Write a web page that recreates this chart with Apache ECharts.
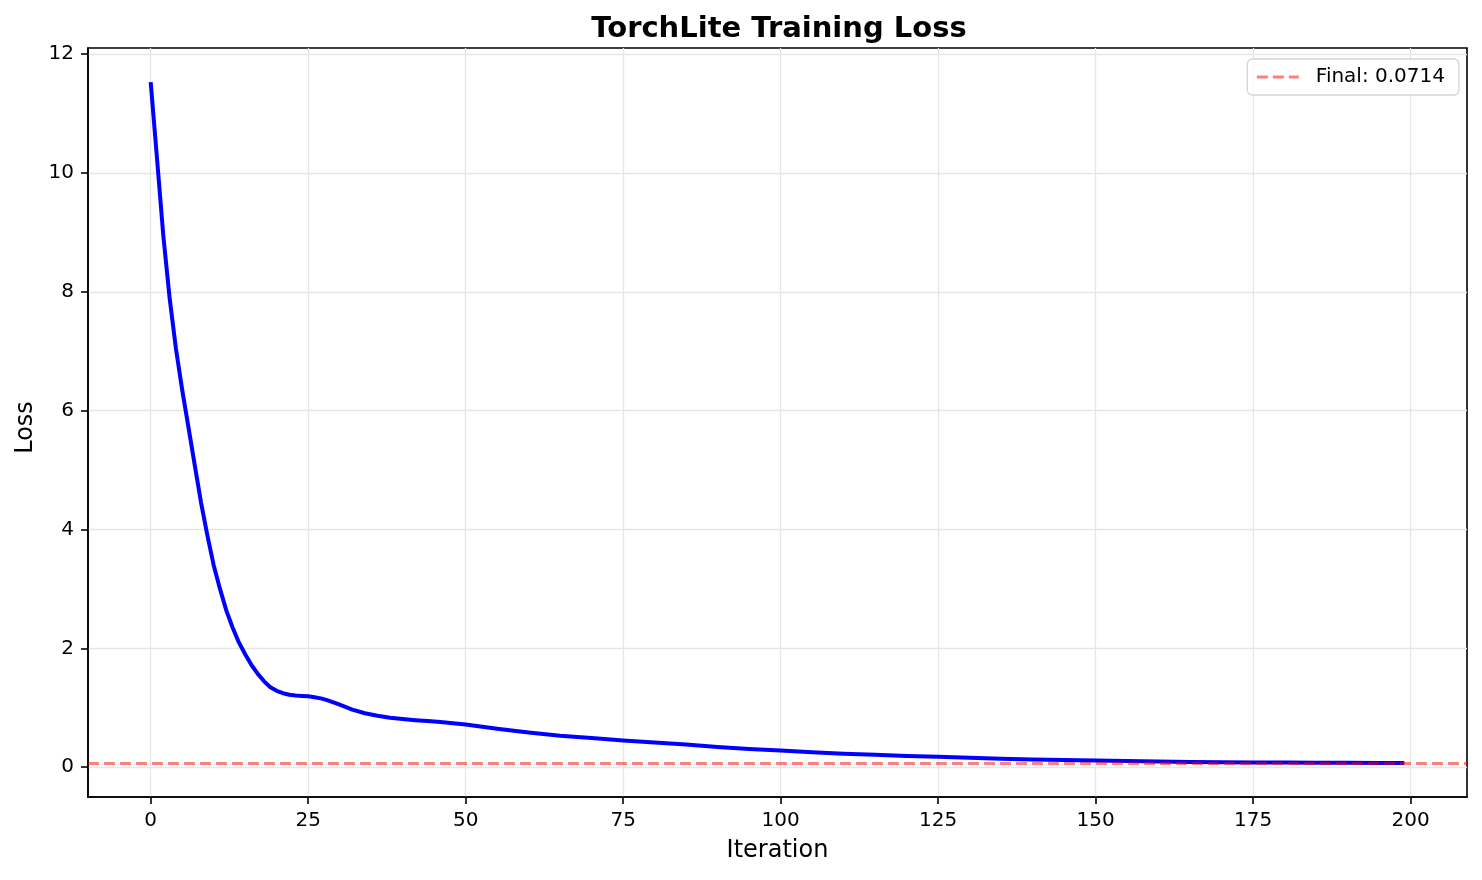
<!DOCTYPE html>
<html>
<head>
<meta charset="utf-8">
<script src="https://cdn.jsdelivr.net/npm/echarts@6/dist/echarts.min.js"></script>
<style>
html,body{margin:0;padding:0;background:#fff;}
#c{width:1482px;height:880px;}
</style>
</head>
<body>
<div id="c"></div>
<script>
// ---- data ----
const iterations = [0,1,2,3,4,5,6,7,8,9,10,11,12,13,14,15,16,17,18,19,20,21,22,23,24,25,26,27,28,29,30,32,34,36,38,40,42,44,46,48,50,55,60,65,70,75,80,85,90,95,100,105,110,115,120,125,130,135,140,145,150,155,160,165,170,175,180,185,190,195,199];
const lossValues = [11.53,10.25,8.95,7.9,7.05,6.35,5.72,5.08,4.45,3.9,3.4,3.0,2.64,2.35,2.1,1.9,1.72,1.57,1.445,1.345,1.285,1.245,1.22,1.207,1.2,1.193,1.178,1.158,1.128,1.092,1.052,0.97,0.908,0.865,0.832,0.81,0.792,0.776,0.76,0.74,0.72,0.648,0.585,0.53,0.49,0.45,0.415,0.38,0.34,0.305,0.28,0.25,0.228,0.21,0.19,0.174,0.157,0.143,0.13,0.12,0.112,0.104,0.096,0.089,0.084,0.079,0.077,0.075,0.0735,0.072,0.0714];
const finalLoss = 0.0714;
const xTicks = [0,25,50,75,100,125,150,175,200];
const yTicks = [0,2,4,6,8,10,12];
const titleText = 'TorchLite Training Loss';
const xName = 'Iteration';
const yName = 'Loss';
const finalLabel = 'Final: ' + finalLoss.toFixed(4);

const FONT = 'DejaVu Sans';
const lossData = iterations.map((it, i) => [it, lossValues[i]]);

// matplotlib-style 5% margins
const xMin = 0 - 0.05 * (199 - 0), xMax = 199 + 0.05 * (199 - 0);
const yLo = Math.min.apply(null, lossValues), yHi = Math.max.apply(null, lossValues);
const yMin = yLo - 0.05 * (yHi - yLo), yMax = yHi + 0.05 * (yHi - yLo);

const chart = echarts.init(document.getElementById('c'), null, {renderer: 'canvas'});
const axisCommon = {
  axisLine: {show: true, onZero: false, lineStyle: {color: '#000', width: 1.6}},
  axisTick: {show: true, length: 7, lineStyle: {color: '#000', width: 1.6}},
  splitLine: {show: true, lineStyle: {color: '#e6e6e6', width: 1.3}},
};
const dashStyle = {color: 'rgba(255,0,0,0.5)', width: 3, type: [11, 5]};
chart.setOption({
  animation: false,
  backgroundColor: '#fff',
  title: {
    text: titleText, left: 774, top: 10, textAlign: 'center',
    textStyle: {fontFamily: FONT, fontSize: 29, fontWeight: 'bold', color: '#000', lineHeight: 28}
  },
  grid: {left: 88, top: 48, width: 1379, height: 749, show: true, borderColor: '#000', borderWidth: 1.6, backgroundColor: 'transparent'},
  legend: {
    data: [finalLabel], right: 23, top: 59, orient: 'vertical',
    itemWidth: 42, itemHeight: 12, padding: [8, 14, 8, 8],
    itemStyle: {opacity: 0, borderWidth: 0},
    lineStyle: dashStyle,
    borderColor: '#d6d6d6', borderWidth: 1.3, borderRadius: 5, backgroundColor: 'rgba(255,255,255,0.8)',
    textStyle: {fontFamily: FONT, fontSize: 20, color: '#000', padding: [0, 0, 0, 12], lineHeight: 20}
  },
  xAxis: Object.assign({}, axisCommon, {
    type: 'value', min: xMin, max: xMax,
    name: xName, nameLocation: 'middle', nameGap: 42,
    nameTextStyle: {fontFamily: FONT, fontSize: 24, color: '#000', lineHeight: 24},
    axisTick: Object.assign({}, axisCommon.axisTick, {customValues: xTicks}),
    axisLabel: {customValues: xTicks, margin: 14, fontFamily: FONT, fontSize: 20, color: '#000', lineHeight: 20}
  }),
  yAxis: Object.assign({}, axisCommon, {
    type: 'value', min: yMin, max: yMax,
    name: yName, nameLocation: 'middle', nameGap: 42,
    nameTextStyle: {fontFamily: FONT, fontSize: 24, color: '#000', lineHeight: 24, padding: [0, 10, 0, 0]},
    axisTick: Object.assign({}, axisCommon.axisTick, {customValues: yTicks}),
    axisLabel: {customValues: yTicks, margin: 14, fontFamily: FONT, fontSize: 20, color: '#000', lineHeight: 20}
  }),
  series: [
    {
      name: 'Loss', type: 'line', data: lossData, showSymbol: false, symbol: 'none',
      smooth: false,
      lineStyle: {color: '#0000ff', width: 4, join: 'round'}, itemStyle: {color: '#0000ff'}, z: 3
    },
    {
      name: finalLabel, type: 'line', data: [], symbol: 'none', showSymbol: false,
      lineStyle: dashStyle,
      itemStyle: {color: 'rgba(255,0,0,0.5)'},
      markLine: {
        silent: true, symbol: ['none', 'none'], label: {show: false},
        lineStyle: dashStyle,
        data: [{yAxis: finalLoss}]
      }, z: 4
    }
  ]
});
</script>
</body>
</html>
